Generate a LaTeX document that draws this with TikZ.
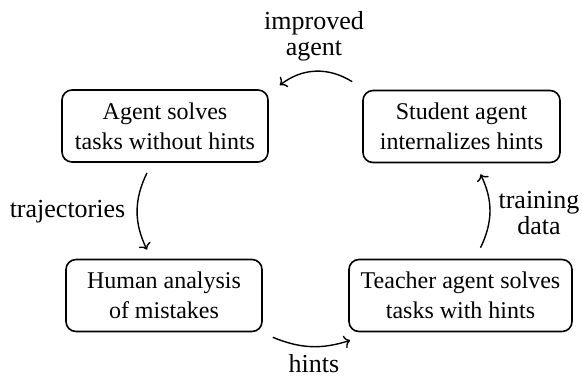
\documentclass[tikz,border=0pt]{standalone}
\usepackage{fontspec}
\setmainfont{Liberation Serif}
\usetikzlibrary{arrows.meta,calc}
\tikzset{
  stepbox/.style={draw, line width=0.8pt, rounded corners=5pt, align=center,
    minimum height=36pt, inner sep=0pt, font=\fontsize{12}{15}\selectfont},
  lbl/.style={align=center, inner sep=0pt, anchor=base, font=\fontsize{13}{12.6}\selectfont},
  flow/.style={line width=0.7pt, -{To[length=3pt,width=6.5pt]}}
}
\begin{document}
\begin{tikzpicture}[x=0.5pt,y=-0.5pt]
\useasboundingbox (0,0) rectangle (582,377);
\node[stepbox, minimum width=103pt] (A) at (165,126) {Agent solves\\tasks without hints};
\node[stepbox, minimum width=98.5pt] (B) at (461.5,126.5) {Student agent\\internalizes hints};
\node[stepbox, minimum width=98pt] (C) at (164,295.5) {Human analysis\\of mistakes};
\node[stepbox, minimum width=111.5pt] (D) at (460.5,295.5) {Teacher agent solves\\tasks with hints};

\node[lbl] (l1) at (314,55) {improved\\agent};
\node[lbl] (l2) at (67.5,217) {trajectories};
\node[lbl] (l3) at (314,372) {hints};
\node[lbl] (l4) at (539,234) {training\\data};

\draw[flow] ($(B.north west)+(-10,-8)$) to[bend right=35] ($(A.north east)+(11,-4)$);
\draw[flow] ($(A.south)+(-18,10)$) to[bend right=26] ($(C.north)+(-17,-9)$);
\draw[flow] ($(C.south east)+(10,5)$) to[bend right=20] ($(D.south west)+(2,8)$);
\draw[flow] ($(D.north)+(20,-11)$) to[bend right=26] ($(B.south)+(19,11)$);
\end{tikzpicture}
\end{document}
